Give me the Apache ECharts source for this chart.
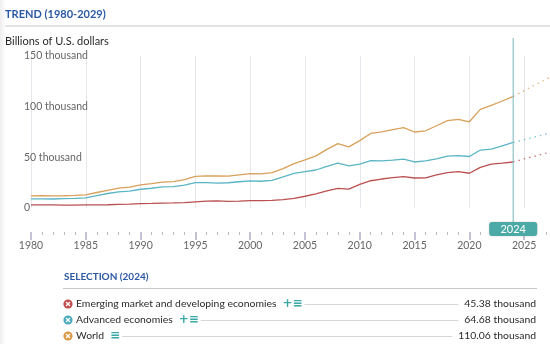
<!DOCTYPE html>
<html>
<head>
    <meta charset="utf-8">
    <title>TREND (1980-2029)</title>
    <script src="https://cdn.jsdelivr.net/npm/echarts@6/dist/echarts.min.js"></script>
    <style>
        html, body { margin: 0; padding: 0; background: #fff; overflow: hidden; }
        /* chart runs past the right edge, as in the original */
        #main { width: 572px; height: 344px; }
    </style>
</head>
<body>
    <div id="main"></div>

    <script type="text/javascript">

        // 数据 (billions of U.S. dollars)
        var years = [1980, 1981, 1982, 1983, 1984, 1985, 1986, 1987, 1988, 1989,
                     1990, 1991, 1992, 1993, 1994, 1995, 1996, 1997, 1998, 1999,
                     2000, 2001, 2002, 2003, 2004, 2005, 2006, 2007, 2008, 2009,
                     2010, 2011, 2012, 2013, 2014, 2015, 2016, 2017, 2018, 2019,
                     2020, 2021, 2022, 2023, 2024];
        var world = [12000, 12100, 11900, 12100, 12400, 12900, 15300, 17500, 19600, 20500,
                     22900, 24000, 25600, 26100, 28000, 31200, 31800, 31600, 31400, 32700,
                     34000, 33700, 34900, 38900, 43700, 47400, 51400, 57900, 63500, 60300,
                     66500, 73600, 75200, 77300, 79300, 75000, 76200, 81200, 86200, 87500,
                     85100, 97300, 101200, 105600, 110060];
        var advanced = [9000, 9000, 8900, 9200, 9500, 9900, 12300, 14300, 16000, 16600,
                        18500, 19500, 20800, 21100, 22600, 25100, 25000, 24600, 24900, 25900,
                        26700, 26400, 27300, 30700, 34200, 35800, 37500, 41100, 44200, 41600,
                        43200, 46700, 46600, 47300, 48300, 45400, 46500, 48500, 51200, 51700,
                        50800, 57200, 58000, 61400, 64680];
        var emerging = [3000, 3100, 3000, 2900, 2900, 3000, 3000, 3200, 3600, 3900,
                        4400, 4500, 4800, 5000, 5400, 6100, 6800, 7000, 6500, 6800,
                        7300, 7300, 7600, 8200, 9500, 11600, 13900, 16800, 19300, 18700,
                        23300, 26900, 28600, 30000, 31000, 29600, 29700, 32700, 35000, 35800,
                        34300, 40100, 43200, 44200, 45380];

        // 预测 (projections)
        var projYears = [2024, 2025, 2026, 2027, 2028, 2029];
        var worldProj = [110060, 115800, 121500, 127000, 133000, 138600];
        var advancedProj = [64680, 67400, 70200, 72900, 75600, 78300];
        var emergingProj = [45380, 48400, 51300, 54100, 57400, 60300];

        var selYear = 2024;

        var names = ['Emerging market and developing economies', 'Advanced economies', 'World'];
        var colors = ['#bb5050', '#5ab5c4', '#d8a05a'];
        var iconColors = ['#c24c4c', '#4eaac0', '#d99a4a'];

        function pairs(xs, ys) {
            var out = [];
            for (var i = 0; i < xs.length; i++) out.push([xs[i], ys[i]]);
            return out;
        }

        var myChart = echarts.init(document.getElementById('main'));
        var font = 'Lato, "Open Sans", sans-serif';

        var solid = [emerging, advanced, world];
        var dotted = [emergingProj, advancedProj, worldProj];
        var series = [];
        for (var k = 0; k < 3; k++) {
            series.push({
                name: names[k],
                type: 'line',
                data: pairs(years, solid[k]),
                showSymbol: false,
                lineStyle: { color: colors[k], width: 1.3 },
                silent: true
            });
            series.push({
                name: names[k] + ' proj',
                type: 'line',
                data: pairs(projYears, dotted[k]),
                showSymbol: false,
                lineStyle: { color: colors[k], width: 1.3, type: [1.5, 4], opacity: 0.8 },
                silent: true
            });
        }

        myChart.setOption({
            animation: false,
            textStyle: { fontFamily: font },
            // grid 0: plot area, grid 1: the detached year axis underneath
            grid: [
                { left: 31, top: 56, height: 152, width: 537 },
                { left: 31, top: 231, height: 1, width: 537 }
            ],
            xAxis: [{
                type: 'value',
                gridIndex: 0,
                min: 1980,
                max: 2029,
                interval: 5,
                axisLine: { show: false },
                axisTick: { show: false },
                axisLabel: { show: false },
                splitLine: { show: true, lineStyle: { color: '#e6e6ec', width: 1 } }
            }, {
                type: 'value',
                gridIndex: 1,
                min: 1980,
                max: 2029,
                interval: 5,
                axisLine: { show: false },
                axisTick: { show: true, length: 8, lineStyle: { color: '#b3aecb', width: 1.5 } },
                minorTick: { show: true, splitNumber: 5, length: 3, lineStyle: { color: '#b9b9c4' } },
                splitLine: { show: false },
                axisLabel: {
                    color: '#666',
                    fontSize: 10.5,
                    margin: 8,
                    showMaxLabel: false,
                    formatter: function (v) { return String(v); }
                }
            }],
            yAxis: [{
                type: 'value',
                gridIndex: 0,
                min: 0,
                max: 150000,
                interval: 50000,
                axisLine: { show: false },
                axisTick: { show: false },
                splitLine: { show: false },
                axisLabel: {
                    align: 'left',
                    margin: 7,
                    color: '#666',
                    fontSize: 10.5,
                    formatter: function (v) { return v === 0 ? '0' : (v / 1000) + ' thousand'; }
                }
            }, {
                type: 'value',
                gridIndex: 1,
                show: false
            }],
            series: series
        });

        // 选中年份的竖线与标签
        var px = myChart.convertToPixel({ gridIndex: 0 }, [selYear, 0])[0];

        var graphics = [
            {
                type: 'rect', silent: true,
                shape: { x: 0, y: 0, width: 6, height: 344 },
                style: { fill: new echarts.graphic.LinearGradient(0, 0, 1, 0, [
                    { offset: 0, color: 'rgba(0,0,0,0.07)' }, { offset: 1, color: 'rgba(0,0,0,0)' }]) }
            },
            { type: 'text', x: 5, y: 14, style: { text: 'TREND (1980-2029)', fill: '#2b59a4', font: 'bold 11px ' + font, textVerticalAlign: 'middle' } },
            { type: 'line', shape: { x1: 5, y1: 26, x2: 572, y2: 26 }, style: { stroke: '#c8c8cc', lineWidth: 1 } },
            { type: 'text', x: 5, y: 41, style: { text: 'Billions of U.S. dollars', fill: '#2a2a2a', font: '11px ' + font, textVerticalAlign: 'middle' } },
            { type: 'line', z: 10, shape: { x1: px, y1: 38, x2: px, y2: 224 }, style: { stroke: '#8ec2c5', lineWidth: 1.2 } },
            { type: 'rect', z: 11, shape: { x: px - 24, y: 222, width: 48, height: 14, r: 3 },
              style: { fill: '#4ba9a6', shadowBlur: 2, shadowColor: 'rgba(0,0,0,0.2)' } },
            { type: 'text', z: 12, x: px, y: 229, style: { text: String(selYear), fill: '#fff', font: '11px ' + font, textAlign: 'center', textVerticalAlign: 'middle' } },
            { type: 'text', x: 64, y: 277, style: { text: 'SELECTION (' + selYear + ')', fill: '#2b59a4', font: 'bold 10px ' + font, textVerticalAlign: 'middle' } },
            { type: 'line', shape: { x1: 63, y1: 288.5, x2: 537, y2: 288.5 }, style: { stroke: '#c8c8cc', lineWidth: 1 } }
        ];

        // 选择列表
        var ctx = document.createElement('canvas').getContext('2d');
        var rowFont = '10.4px ' + font;
        ctx.font = rowFont;
        var rowY = [304, 320, 336];
        var icons = [['+', '≡'], ['+', '≡'], ['≡']];
        var idx = years.indexOf(selYear);
        for (var r = 0; r < 3; r++) {
            var y = rowY[r];
            graphics.push({ type: 'circle', shape: { cx: 68, cy: y, r: 4.6 }, style: { fill: iconColors[r] } });
            graphics.push({ type: 'line', shape: { x1: 66, y1: y - 2, x2: 70, y2: y + 2 }, style: { stroke: '#fff', lineWidth: 1.2 } });
            graphics.push({ type: 'line', shape: { x1: 70, y1: y - 2, x2: 66, y2: y + 2 }, style: { stroke: '#fff', lineWidth: 1.2 } });
            graphics.push({ type: 'text', x: 76, y: y, style: { text: names[r], fill: '#2a2a2a', font: rowFont, textVerticalAlign: 'middle' } });
            var ix = 76 + ctx.measureText(names[r]).width + 6;
            for (var j = 0; j < icons[r].length; j++) {
                graphics.push({ type: 'text', x: ix, y: y, style: { text: icons[r][j], fill: '#3aa9a6', font: 'bold 12px "DejaVu Sans", sans-serif', textVerticalAlign: 'middle' } });
                ix += 10;
            }
            var v = solid[r][idx];
            var label = (v / 1000).toFixed(2) + ' thousand';
            var lw = ctx.measureText(label).width;
            graphics.push({ type: 'line', shape: { x1: ix + 2, y1: y + 0.5, x2: 536 - lw - 6, y2: y + 0.5 }, style: { stroke: '#d6d6da', lineWidth: 1 } });
            graphics.push({ type: 'text', x: 536, y: y, style: { text: label, fill: '#2a2a2a', font: rowFont, textAlign: 'right', textVerticalAlign: 'middle' } });
        }

        myChart.setOption({ graphic: graphics });

    </script>
</body>
</html>
